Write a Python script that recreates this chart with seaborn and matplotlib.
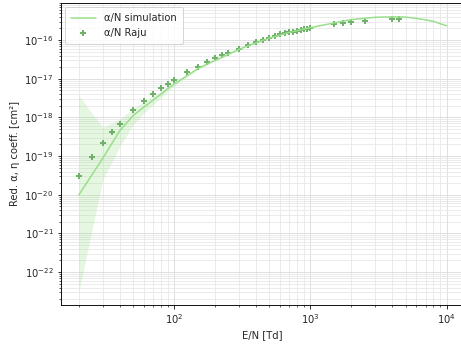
import numpy as np
import pandas as pd
import matplotlib
matplotlib.use("Agg")
import matplotlib.pyplot as plt
from matplotlib.ticker import LogLocator, NullFormatter
import seaborn as sns

# Simulation (alpha/N)
sim_en = [20, 30, 40, 50, 60, 70, 80, 90, 100, 150, 200, 300, 400, 500, 700,
          1000, 1500, 2000, 3000, 4000, 5000, 6000, 7000, 8000, 10000]
sim_alpha = [1.0e-20, 8.9e-20, 4.6e-19, 1.12e-18, 1.85e-18, 2.8e-18, 4.0e-18, 5.6e-18, 7.3e-18,
             1.85e-17, 3.0e-17, 5.8e-17, 8.6e-17, 1.13e-16, 1.58e-16,
             2.1e-16, 2.8e-16, 3.4e-16, 3.9e-16, 4.0e-16, 3.95e-16, 3.65e-16, 3.35e-16, 3.05e-16, 2.35e-16]
sim_upper = [3.7e-18, 5.5e-19, 9.0e-19, 1.7e-18, 2.6e-18, 3.6e-18, 4.8e-18, 6.3e-18, 8.0e-18,
             1.95e-17, 3.1e-17, 5.95e-17, 8.8e-17, 1.15e-16, 1.6e-16,
             2.13e-16, 2.83e-16, 3.43e-16, 3.93e-16, 4.03e-16, 3.98e-16, 3.68e-16, 3.38e-16, 3.08e-16, 2.38e-16]
sim_lower = [3.2e-23, 2.5e-20, 1.8e-19, 6.5e-19, 1.3e-18, 2.1e-18, 3.2e-18, 4.8e-18, 6.5e-18,
             1.75e-17, 2.9e-17, 5.65e-17, 8.4e-17, 1.11e-16, 1.56e-16,
             2.07e-16, 2.77e-16, 3.37e-16, 3.87e-16, 3.97e-16, 3.92e-16, 3.62e-16, 3.32e-16, 3.02e-16, 2.32e-16]

# Raju reference data
raju_en = [20, 25, 30, 35, 40, 50, 60, 70, 80, 90, 100, 125, 150, 175, 200, 225,
           250, 300, 350, 400, 450, 500, 550, 600, 650, 700, 750, 800, 850, 900, 950, 1000,
           1500, 1750, 2000, 2500, 4000, 4500]
raju_alpha = [3.0e-20, 9.3e-20, 2.2e-19, 4.1e-19, 6.8e-19, 1.55e-18, 2.7e-18, 4.0e-18, 5.7e-18, 7.4e-18,
              9.3e-18, 1.47e-17, 2.0e-17, 2.66e-17, 3.37e-17, 4.1e-17,
              4.7e-17, 5.97e-17, 7.4e-17, 8.7e-17, 1.02e-16, 1.15e-16, 1.27e-16, 1.43e-16, 1.52e-16,
              1.61e-16, 1.65e-16, 1.74e-16, 1.81e-16, 1.89e-16, 1.95e-16, 2.04e-16,
              2.58e-16, 2.74e-16, 2.86e-16, 3.09e-16, 3.47e-16, 3.47e-16]

y_major_ticks = [1e-22, 1e-21, 1e-20, 1e-19, 1e-18, 1e-17, 1e-16]
x_major_ticks = [1e2, 1e3, 1e4]

sns.set_style("white")
plt.rcParams['font.family'] = ['DejaVu Sans']
plt.rcParams['font.size'] = 10

fig = plt.figure(figsize=(461 / 72, 348 / 72), dpi=72)
ax = fig.add_axes([60.5 / 461, 43 / 348, (465 - 60.5) / 461, (305 - 3) / 348])

line_color = '#98df8a'
pt_color = '#6fb06b'

sim_df = pd.DataFrame({'E/N': sim_en, 'alpha': sim_alpha})
raju_df = pd.DataFrame({'E/N': raju_en, 'alpha': raju_alpha})

ax.fill_between(sim_en, sim_lower, sim_upper, color=line_color, alpha=0.25, linewidth=0)
sns.lineplot(data=sim_df, x='E/N', y='alpha', ax=ax, color=line_color, linewidth=1.5,
             label='α/N simulation')
sns.scatterplot(data=raju_df, x='E/N', y='alpha', ax=ax, color=pt_color, marker='P', s=30,
                linewidth=0, label='α/N Raju')

ax.set_xscale('log')
ax.set_yscale('log')
ax.set_yticks(y_major_ticks)
ax.set_xticks(x_major_ticks)
ax.yaxis.set_minor_locator(LogLocator(base=10, subs=np.arange(2, 10)))
ax.xaxis.set_minor_locator(LogLocator(base=10, subs=np.arange(2, 10)))
ax.yaxis.set_minor_formatter(NullFormatter())
ax.xaxis.set_minor_formatter(NullFormatter())
ax.grid(True, which='major', color='#dcdcdc', linewidth=0.9)
ax.grid(True, which='minor', color='#e6e6e6', linewidth=0.8)
ax.set_axisbelow(True)
for s in ax.spines.values():
    s.set_color('black')
    s.set_linewidth(0.9)
ax.spines['right'].set_visible(False)
ax.tick_params(which='both', direction='out', bottom=True, left=True, color='black')
ax.tick_params(which='major', length=3.5, width=0.8, labelsize=10)
ax.tick_params(which='minor', length=2, width=0.6)
ax.set_xlabel('E/N [Td]', fontsize=10)
ax.set_ylabel('Red. α, η coeff. [cm²]', fontsize=10)
ax.legend(loc='upper left', fontsize=10, frameon=True, borderpad=0.6,
          handlelength=2.5, handletextpad=0.9, borderaxespad=0.4)

fig.savefig('out.png', dpi=72)
